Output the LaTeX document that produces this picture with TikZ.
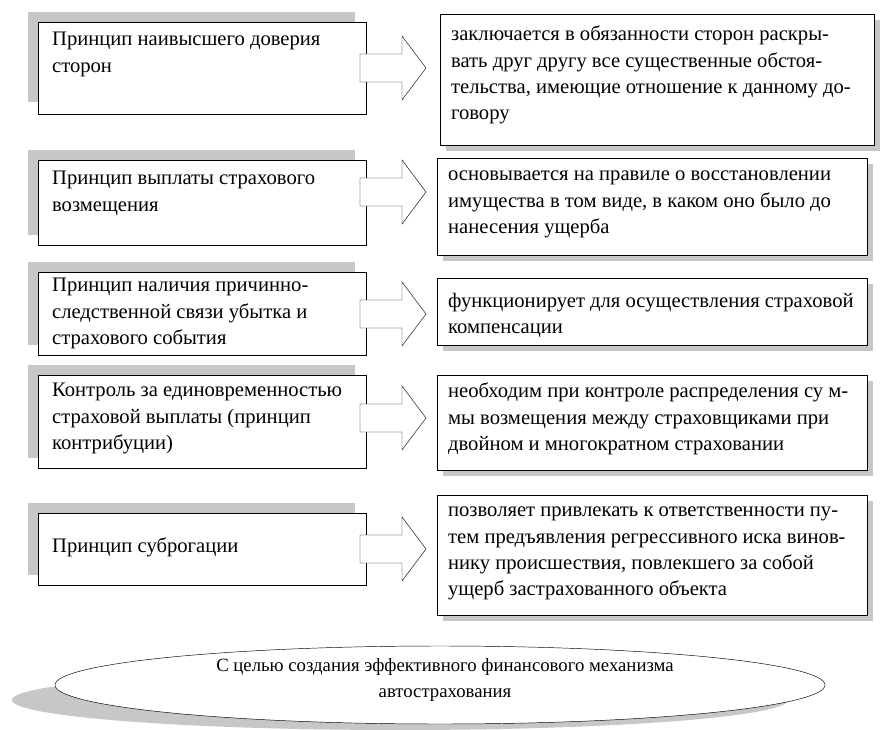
\documentclass[tikz,border=0pt]{standalone}
\usepackage{fontspec}
\setmainfont{Liberation Serif}
\usetikzlibrary{calc,shapes.geometric}

\begin{document}
\begin{tikzpicture}[x=0.03cm,y=-0.03cm,
  font=\fontsize{17.6}{22.5}\selectfont,
  shade/.style={fill=black!22,draw=none}]
\useasboundingbox (0,0) rectangle (884,730);

% left column
\fill[shade] (28,12) rectangle (355,102);
\draw[fill=white] (38,22) rectangle (366,114);
\node[anchor=north west,align=left] (l1) at (48,28) {Принцип наивысшего доверия\\сторон};
\fill[shade] (28,150) rectangle (355,235);
\draw[fill=white] (38,160) rectangle (366,245);
\node[anchor=north west,align=left] (l2) at (48,167) {Принцип выплаты страхового\\возмещения};
\fill[shade] (28,262) rectangle (355,345);
\draw[fill=white] (38,272) rectangle (366,355);
\node[anchor=north west,align=left] (l3) at (48,274) {Принцип наличия причинно-\\следственной связи убытка и\\страхового события};
\fill[shade] (28,365) rectangle (355,458);
\draw[fill=white] (38,375) rectangle (366,468);
\node[anchor=north west,align=left] (l4) at (48,379) {Контроль за единовременностью\\страховой выплаты (принцип\\контрибуции)};
\fill[shade] (28,503) rectangle (355,575);
\draw[fill=white] (38,513) rectangle (366,585);
\node[anchor=north west,align=left] (l5) at (48,534) {Принцип суброгации};

% right column
\fill[shade] (446,20) rectangle (880,151);
\draw[fill=white] (440,14) rectangle (874,145);
\node[anchor=north west,align=left] (r1) at (447,22) {заключается в обязанности сторон раскры-\\вать друг другу все существенные обстоя-\\тельства, имеющие отношение к данному до-\\говору};
\fill[shade] (443,164) rectangle (873,261);
\draw[fill=white] (437,158) rectangle (867,255);
\node[anchor=north west,align=left] (r2) at (444,167) {основывается на правиле о восстановлении\\имущества в том виде, в каком оно было до\\нанесения ущерба};
\fill[shade] (443,284) rectangle (873,351);
\draw[fill=white] (437,278) rectangle (867,345);
\node[anchor=north west,align=left] (r3) at (444,289) {функционирует для осуществления страховой\\компенсации};
\fill[shade] (443,381) rectangle (873,476);
\draw[fill=white] (437,375) rectangle (867,470);
\node[anchor=north west,align=left] (r4) at (444,379) {необходим при контроле распределения су м-\\мы возмещения между страховщиками при\\двойном и многократном страховании};
\fill[shade] (443,501) rectangle (873,621);
\draw[fill=white] (437,495) rectangle (867,615);
\node[anchor=north west,align=left] (r5) at (444,503) {позволяет привлекать к ответственности пу-\\тем предъявления регрессивного иска винов-\\нику происшествия, повлекшего за собой\\ущерб застрахованного объекта};

% arrows
\foreach \y in {68,192,314,418,549}{
  \draw[fill=white] (360,\y-14) -- (402,\y-14) -- (402,\y-32) -- (426,\y) -- (402,\y+32) -- (402,\y+14) -- (360,\y+14) -- cycle;
}

% goal
\fill[black!22] (400,700) ellipse (388 and 30);
\draw[fill=white] (440,685) ellipse (385 and 39);
\node[align=center,font=\fontsize{16}{22}\selectfont] (goal) at (445,680) {С целью создания эффективного финансового механизма\\автострахования};
\end{tikzpicture}
\end{document}
